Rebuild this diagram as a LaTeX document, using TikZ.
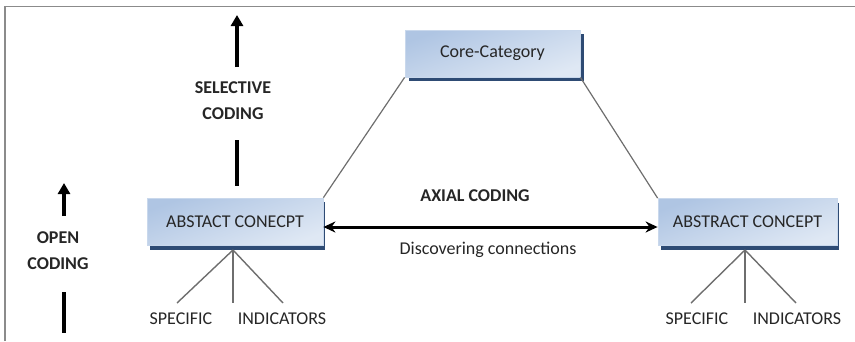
\documentclass[tikz,border=0pt]{standalone}
\usepackage{fontspec}
\setmainfont{Carlito}
\usetikzlibrary{arrows.meta,positioning}
\definecolor{boxtop}{HTML}{AFC5E3}
\definecolor{boxbot}{HTML}{DFE8F4}
\definecolor{boxedge}{HTML}{C9D8EC}
\definecolor{shadowblue}{HTML}{2E4B74}
\definecolor{linegray}{HTML}{6E6E6E}
\definecolor{txt}{HTML}{262626}
\tikzset{
  concept/.style={rectangle, minimum height=47pt, inner sep=0pt,
    shading=axis, top color=boxtop, bottom color=boxbot, shading angle=20,
    draw=boxedge, line width=0.8pt, text=txt,
    font=\fontsize{18}{20}\selectfont},
  shade/.style={fill=shadowblue, draw=none},
  branch/.style={draw=linegray, line width=1.4pt},
  link/.style={draw=linegray, line width=1.2pt},
  bigarrow/.style={line width=3.6pt, -{Triangle[length=11pt,width=12pt]}},
  bigline/.style={line width=3.6pt},
  leaf/.style={font=\fontsize{18}{20}\selectfont, text=txt, inner sep=0pt},
  lbl/.style={font=\bfseries\fontsize{18}{26}\selectfont, text=txt, align=center, inner sep=0pt}
}
\begin{document}
\begin{tikzpicture}[x=1pt,y=-1pt]
\useasboundingbox (0,0) rectangle (855,341);
% frame
\draw[linegray!80, line width=1.5pt] (5,341) -- (5,6.5) -- (855,6.5);

% drop shadows of the concept boxes
\fill[shade] (409,34) rectangle (584,81);
\fill[shade] (150,202) rectangle (325,250);
\fill[shade] (661,203) rectangle (839,250);

% concept boxes
\node[concept, minimum width=175pt] (core) at (492.5,53.5) {Core-Category};
\node[concept, minimum width=176pt] (left) at (235,221.5) {ABSTACT CONECPT};
\node[concept, minimum width=179pt] (right) at (747.5,222) {ABSTRACT CONCEPT};

% triangle sides
\draw[link] (core.south west) -- (left.north east);
\draw[link] (core.south east) -- (right.north west);

% axial coding
\draw[line width=3pt, {Stealth[length=12pt,width=11pt]}-{Stealth[length=12pt,width=11pt]}] (left.east |- 0,227) -- (right.west |- 0,227);
\node[lbl] (axial) at (475,196) {AXIAL CODING};
\node[font=\fontsize{18}{20}\selectfont, text=txt, inner sep=0pt] (disc) at (488,250) {Discovering connections};

% indicator branches, left
\coordinate (lroot) at (233,250);
\node[leaf] (ls) at (181,319) {SPECIFIC};
\node[leaf] (li) at (282,319) {INDICATORS};
\coordinate (l1) at (177,303);
\coordinate (l2) at (233,303);
\coordinate (l3) at (283,303);
\draw[branch] (lroot) -- (l1);
\draw[branch] (lroot) -- (l2);
\draw[branch] (lroot) -- (l3);

% indicator branches, right
\coordinate (rroot) at (745,250);
\node[leaf] (rs) at (697,319) {SPECIFIC};
\node[leaf] (ri) at (797,319) {INDICATORS};
\coordinate (r1) at (691,303);
\coordinate (r2) at (745,303);
\coordinate (r3) at (796,303);
\draw[branch] (rroot) -- (r1);
\draw[branch] (rroot) -- (r2);
\draw[branch] (rroot) -- (r3);

% selective coding
\node[lbl] (sel) at (233,101) {SELECTIVE\\CODING};
\coordinate (s1) at (237,67);
\coordinate (s2) at (237,15);
\coordinate (s3) at (237,140);
\coordinate (s4) at (237,186);
\draw[bigarrow] (s1) -- (s2);
\draw[bigline] (s3) -- (s4);

% open coding
\node[lbl] (open) at (58,251) {OPEN\\CODING};
\coordinate (o1) at (64,216);
\coordinate (o2) at (64,183);
\coordinate (o3) at (64,292);
\coordinate (o4) at (64,333);
\draw[bigarrow] (o1) -- (o2);
\draw[bigline] (o3) -- (o4);
\end{tikzpicture}
\end{document}
